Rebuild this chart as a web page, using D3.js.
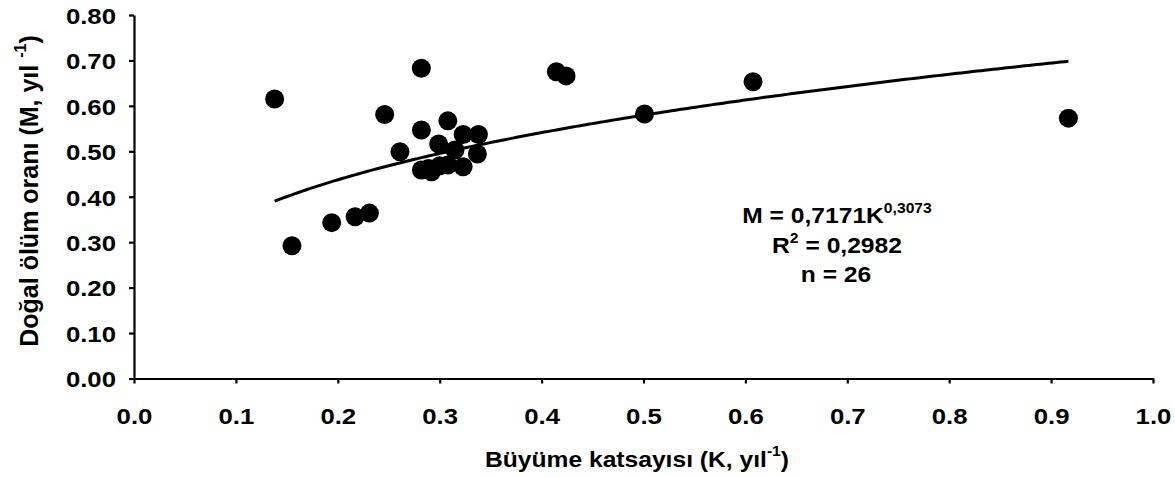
<!DOCTYPE html>
<html>
<head>
<meta charset="utf-8">
<script src="https://cdn.jsdelivr.net/npm/d3@7"></script>
<style>
  html, body { margin: 0; padding: 0; background: #fff; }
  svg { display: block; font-family: "Liberation Sans", Arial, sans-serif; font-weight: bold; }
</style>
</head>
<body>
<svg id="chart" width="1175" height="477"></svg>
<script>
// Growth coefficient K (yıl^-1) and natural mortality M (yıl^-1)
const kValues = [0.138, 0.155, 0.194, 0.217, 0.231, 0.246, 0.261, 0.282, 0.282, 0.308,
                 0.299, 0.323, 0.338, 0.315, 0.337, 0.282, 0.292, 0.308, 0.323, 0.289,
                 0.300, 0.4145, 0.424, 0.501, 0.6075, 0.917];
const mValues = [0.615, 0.292, 0.343, 0.356, 0.364, 0.581, 0.499, 0.683, 0.547, 0.567,
                 0.516, 0.537, 0.537, 0.503, 0.494, 0.459, 0.455, 0.470, 0.466, 0.462,
                 0.468, 0.675, 0.666, 0.582, 0.653, 0.573];

// Power fit M = a·K^b
const fitA = 0.7171;
const fitB = 0.3073;
const fitR2 = "0,2982";

const xTicks = [0.0, 0.1, 0.2, 0.3, 0.4, 0.5, 0.6, 0.7, 0.8, 0.9, 1.0];
const yTicks = [0.0, 0.1, 0.2, 0.3, 0.4, 0.5, 0.6, 0.7, 0.8];

const svg = d3.select("#chart");
const plotLeft = 134, plotRight = 1153, plotTop = 15, plotBottom = 378.5;
const wide = 1.12; // horizontal stretch of the lettering

const x = d3.scaleLinear().domain([0, 1]).range([plotLeft, plotRight]);
const y = d3.scaleLinear().domain([0, 0.8]).range([plotBottom, plotTop]);

// Axes
const xAxis = svg.append("g")
  .attr("transform", `translate(0,${plotBottom})`)
  .call(d3.axisBottom(x).tickValues(xTicks).tickFormat(d3.format(".1f")).tickSize(5).tickSizeOuter(0));
const yAxis = svg.append("g")
  .attr("transform", `translate(${plotLeft},0)`)
  .call(d3.axisLeft(y).tickValues(yTicks).tickFormat(d3.format(".2f")).tickSize(5).tickSizeOuter(0));

[xAxis, yAxis].forEach(g => {
  g.select(".domain").attr("stroke", "#000").attr("stroke-width", 2.2);
  g.selectAll(".tick line").attr("stroke", "#000").attr("stroke-width", 2.2);
  g.selectAll(".tick text")
    .attr("fill", "#000")
    .attr("transform", `scale(${wide},1)`)
    .style("font-family", "'Liberation Sans', Arial, sans-serif")
    .style("font-weight", "bold")
    .style("font-size", "23px");
});
xAxis.selectAll(".tick text").attr("dy", null).attr("y", 46).attr("x", 0);
yAxis.selectAll(".tick text").attr("x", -18 / wide).attr("dy", "0.36em");

// Fitted curve over the observed K range
const kMin = d3.min(kValues), kMax = d3.max(kValues);
const curveK = d3.range(0, 201).map(i => kMin + (kMax - kMin) * i / 200);
svg.append("path")
  .datum(curveK)
  .attr("fill", "none")
  .attr("stroke", "#000")
  .attr("stroke-width", 3)
  .attr("d", d3.line().x(k => x(k)).y(k => y(fitA * Math.pow(k, fitB))));

// Observations
svg.append("g")
  .selectAll("circle")
  .data(kValues.map((k, i) => [k, mValues[i]]))
  .join("circle")
  .attr("cx", d => x(d[0]))
  .attr("cy", d => y(d[1]))
  .attr("r", 9.5)
  .attr("fill", "#000");

// Axis titles
const xt = svg.append("text")
  .attr("transform", `translate(637,467) scale(${wide},1)`)
  .attr("text-anchor", "middle")
  .style("font-size", "22px");
xt.append("tspan").text("Büyüme katsayısı (K, yıl");
xt.append("tspan").attr("dy", -11).style("font-size", "14px").text("-1");
xt.append("tspan").attr("dy", 11).text(")");

const yt = svg.append("text")
  .attr("transform", "translate(38,191) rotate(-90)")
  .attr("text-anchor", "middle")
  .style("font-size", "25px");
yt.append("tspan").text("Doğal ölüm oranı (M, yıl ");
yt.append("tspan").attr("dy", -12).style("font-size", "16px").text("-1");
yt.append("tspan").attr("dy", 12).text(")");

// Fit annotation
const ann = svg.append("g").attr("text-anchor", "middle").style("font-size", "22px");
const l1 = ann.append("text").attr("transform", `translate(837,223) scale(${wide},1)`);
l1.append("tspan").text("M = " + String(fitA).replace(".", ",") + "K");
l1.append("tspan").attr("dy", -10).style("font-size", "14px").text(String(fitB).replace(".", ","));
const l2 = ann.append("text").attr("transform", `translate(837,253) scale(${wide},1)`);
l2.append("tspan").text("R");
l2.append("tspan").attr("dy", -10).style("font-size", "14px").text("2");
l2.append("tspan").attr("dy", 10).text(" = " + fitR2);
ann.append("text").attr("transform", `translate(836,282) scale(${wide},1)`).text("n = " + kValues.length);
</script>
</body>
</html>
